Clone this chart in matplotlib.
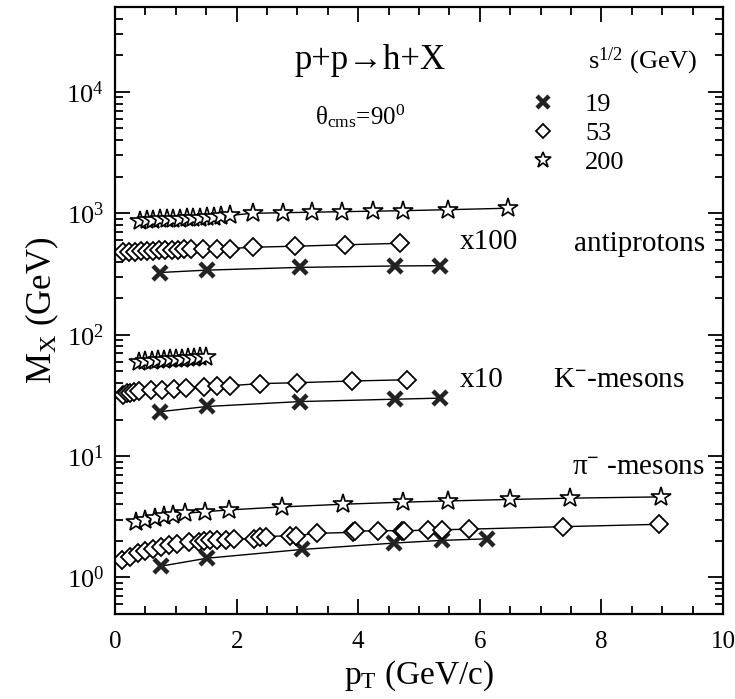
import numpy as np
import matplotlib
matplotlib.use("Agg")
import matplotlib.pyplot as plt
from matplotlib.lines import Line2D
from matplotlib.ticker import LogLocator, NullFormatter, MultipleLocator

plt.rcParams["font.family"] = ["Liberation Serif", "DejaVu Serif"]
plt.rcParams["mathtext.fontset"] = "custom"
plt.rcParams["mathtext.rm"] = "Liberation Serif"
plt.rcParams["mathtext.it"] = "Liberation Serif:italic"
plt.rcParams["mathtext.bf"] = "Liberation Serif:bold"

# --- data: M_X (GeV) vs p_T (GeV/c); antiprotons x100, K- x10 on the plot ---
PBAR_SCALE = 100
KMINUS_SCALE = 10

pbar_19_pt = [0.74, 1.51, 3.04, 4.61, 5.35]
pbar_19_mx = [3.25, 3.40, 3.58, 3.68, 3.70]
pbar_53_pt = [0.13, 0.23, 0.33, 0.43, 0.53, 0.63, 0.73, 0.83, 0.93, 1.03, 1.13,
              1.25, 1.45, 1.67, 1.89, 2.27, 2.96, 3.78, 4.69]
pbar_53_mx = [4.76, 4.80, 4.84, 4.87, 4.90, 4.93, 4.96, 4.98, 5.00, 5.02, 5.04,
              5.06, 5.08, 5.10, 5.12, 5.25, 5.35, 5.50, 5.65]
pbar_200_pt = [0.41, 0.52, 0.63, 0.74, 0.85, 0.96, 1.07, 1.18, 1.29, 1.40, 1.52,
               1.63, 1.75, 1.89, 2.27, 2.76, 3.24, 3.73, 4.24, 4.74, 5.48, 6.46]
pbar_200_mx = [8.7, 8.8, 8.85, 8.9, 8.95, 9.0, 9.05, 9.1, 9.15, 9.2, 9.3,
               9.4, 9.5, 9.6, 10.0, 10.1, 10.2, 10.3, 10.4, 10.5, 10.7, 11.0]

km_19_pt = [0.74, 1.51, 3.04, 4.61, 5.35]
km_19_mx = [2.32, 2.56, 2.81, 2.94, 3.00]
km_53_pt = [0.13, 0.19, 0.25, 0.31, 0.40, 0.59, 0.78, 0.97, 1.16, 1.46, 1.68,
            1.89, 2.38, 2.99, 3.89, 4.80]
km_53_mx = [3.20, 3.28, 3.33, 3.38, 3.43, 3.48, 3.53, 3.58, 3.63, 3.70, 3.75,
            3.80, 3.95, 4.02, 4.15, 4.25]
km_200_pt = [0.40, 0.50, 0.60, 0.70, 0.80, 0.90, 1.00, 1.10, 1.20, 1.30, 1.40, 1.50]
km_200_mx = [6.00, 6.05, 6.10, 6.15, 6.20, 6.25, 6.30, 6.35, 6.40, 6.45, 6.50, 6.60]

pi_19_pt = [0.76, 1.51, 3.07, 4.59, 5.37, 6.12]
pi_19_mx = [1.24, 1.44, 1.70, 1.92, 2.02, 2.08]
pi_53_pt = [0.11, 0.24, 0.37, 0.50, 0.63, 0.76, 0.89, 1.02, 1.21, 1.38, 1.47,
            1.57, 1.67, 1.83, 1.96, 2.29, 2.38, 2.48, 2.87, 2.97, 3.33, 3.91,
            3.94, 4.33, 4.72, 4.76, 5.15, 5.37, 5.83, 7.36, 8.95]
pi_53_mx = [1.40, 1.48, 1.58, 1.66, 1.73, 1.78, 1.84, 1.90, 1.96, 1.96, 1.98,
            2.02, 2.02, 2.05, 2.08, 2.08, 2.14, 2.17, 2.21, 2.21, 2.31, 2.35,
            2.40, 2.43, 2.43, 2.43, 2.45, 2.47, 2.50, 2.62, 2.74]
pi_200_pt = [0.35, 0.50, 0.65, 0.80, 0.95, 1.15, 1.48, 1.88, 2.74, 3.75, 4.74,
             5.48, 6.50, 7.49, 8.98]
pi_200_mx = [2.85, 3.00, 3.10, 3.20, 3.30, 3.38, 3.48, 3.60, 3.81, 4.01, 4.17,
             4.27, 4.39, 4.50, 4.61]

energies = ["19", "53", "200"]

STYLE = {
    "19": dict(marker="x", ms=10, mew=3.2, mec="#222222"),
    "53": dict(marker="D", ms=9, mew=1.3, mec="black", mfc="white"),
    "200": dict(marker="*", ms=15, mew=1.2, mec="black", mfc="white"),
}

fig = plt.figure(figsize=(7.35, 6.99), dpi=100)
fig.patch.set_facecolor("white")
ax = fig.add_axes([0.1565, 0.1216, 0.8272, 0.8684])

groups = [
    (PBAR_SCALE, [(pbar_19_pt, pbar_19_mx), (pbar_53_pt, pbar_53_mx), (pbar_200_pt, pbar_200_mx)]),
    (KMINUS_SCALE, [(km_19_pt, km_19_mx), (km_53_pt, km_53_mx), (km_200_pt, km_200_mx)]),
    (1, [(pi_19_pt, pi_19_mx), (pi_53_pt, pi_53_mx), (pi_200_pt, pi_200_mx)]),
]
for scale, series in groups:
    for e, (pt, mx) in zip(energies, series):
        ax.plot(pt, np.array(mx) * scale, color="black", lw=1.0, **STYLE[e])

ax.set_yscale("log")
ax.set_xlim(0, 10)
ax.set_ylim(0.5, 5e4)
ax.xaxis.set_major_locator(MultipleLocator(2))
ax.xaxis.set_minor_locator(MultipleLocator(0.5))
ax.yaxis.set_major_locator(LogLocator(base=10, numticks=10))
ax.yaxis.set_minor_locator(LogLocator(base=10, subs=np.arange(2, 10), numticks=20))
ax.yaxis.set_minor_formatter(NullFormatter())
ax.tick_params(which="both", direction="in", top=True, right=True, width=1.3)
ax.tick_params(which="major", length=11)
ax.tick_params(which="minor", length=6)
ax.tick_params(axis="x", pad=12, labelsize=18)
ax.tick_params(axis="y", pad=8, labelsize=19)
for sp in ax.spines.values():
    sp.set_linewidth(1.6)

ax.set_xlabel(r"p$_{\mathrm{T}}$ (GeV/c)", fontsize=24, labelpad=4)
ax.set_ylabel(r"M$_{\mathrm{X}}$ (GeV)", fontsize=25, labelpad=4)

# annotations
ax.text(4.19, 1.8e4, "p+p→h+X", fontsize=25, ha="center", va="center")
ax.text(4.03, 6.3e3, r"θ$_{\mathrm{cms}}$=90$^{0}$", fontsize=18, ha="center", va="center")
ax.text(7.78, 1.8e4, r"s$^{1/2}$ (GeV)", fontsize=19, ha="left", va="center")
ax.text(5.67, 575, "x100", fontsize=21, ha="left", va="center")
ax.text(9.70, 555, "antiprotons", fontsize=21, ha="right", va="center")
ax.text(5.67, 42.5, "x10", fontsize=21, ha="left", va="center")
ax.text(7.2, 42.5, r"K$^{\mathbf{-}}$-mesons", fontsize=21, ha="left", va="center")
ax.text(9.70, 7.9, r"π$^{\mathbf{-}}$ -mesons", fontsize=21, ha="right", va="center")

handles = [Line2D([], [], ls="none", color="black", **STYLE[e]) for e in energies]
handles[0].set_markersize(8)
handles[1].set_markersize(7)
handles[2].set_markersize(12)
ax.legend(handles, energies, loc="upper left", bbox_to_anchor=(0.66, 0.88),
          frameon=False, fontsize=19, handletextpad=1.1, labelspacing=0.2,
          handlelength=1.0, borderpad=0)

fig.savefig("out.png", dpi=100, facecolor="white")
plt.close(fig)
